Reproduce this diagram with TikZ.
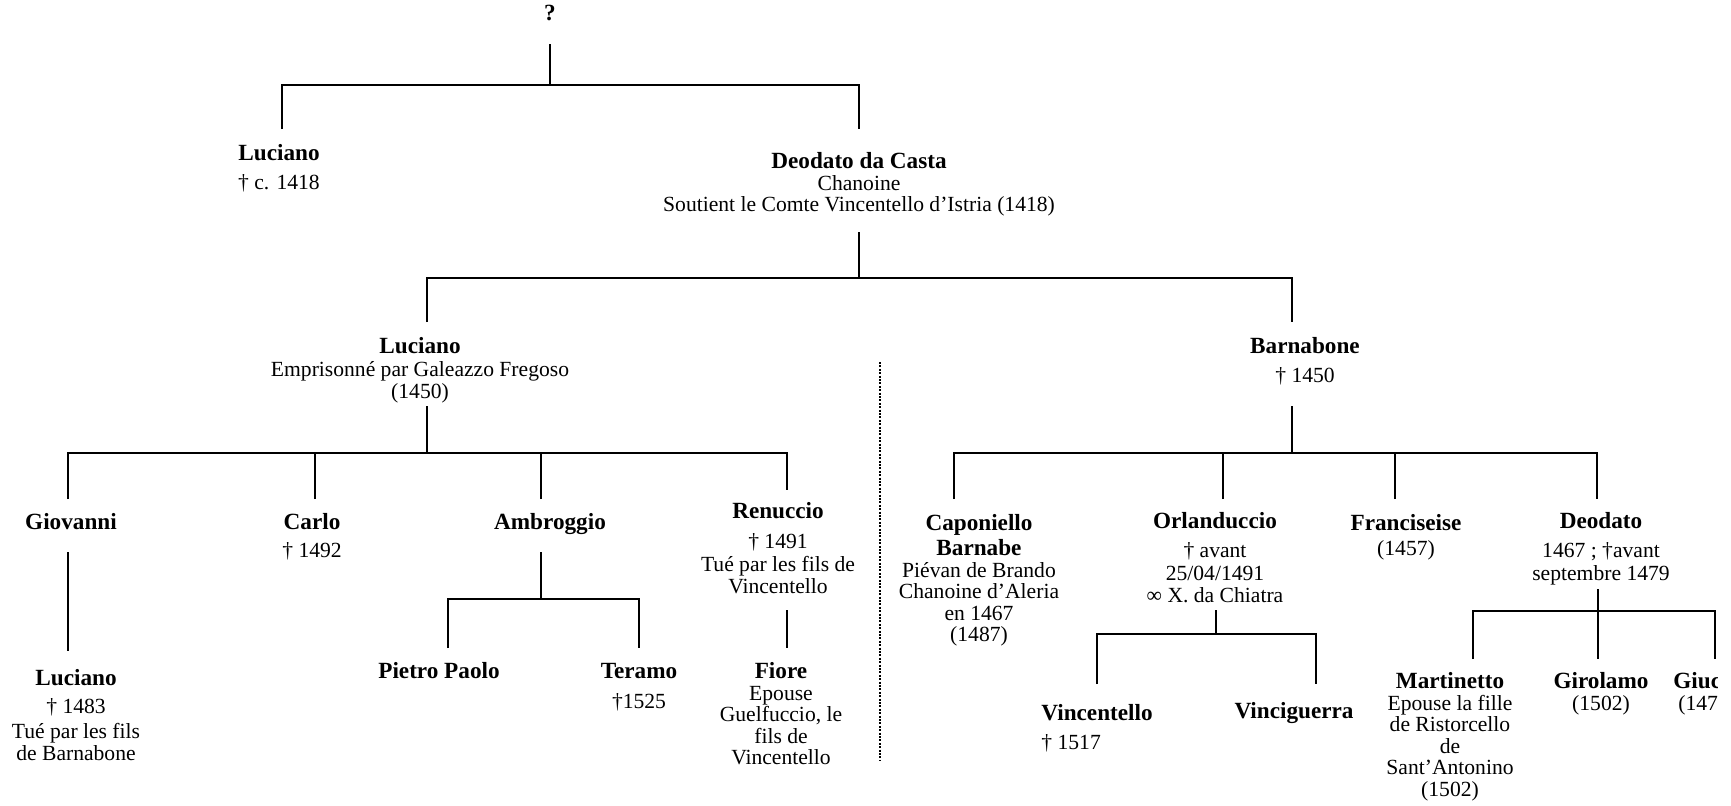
\documentclass[tikz,border=0pt]{standalone}
\usepackage{fontspec}
\setmainfont{Liberation Serif}
\newcommand{\nm}{\fontsize{11.6}{10.8}\selectfont\bfseries}
\newcommand{\pname}[1]{\rule{0pt}{9pt}{\nm #1}}
\tikzset{
  person/.style={align=center, anchor=north, yshift=9pt, inner sep=0pt, font=\fontsize{10.8}{10.8}\selectfont},
  link/.style={line width=0.9pt},
  sep/.style={line width=1.3pt, dash pattern=on 1pt off 0.7pt},
}
\begin{document}
\begin{tikzpicture}[x=0.5pt,y=-0.5pt]
\useasboundingbox (0,0) rectangle (1731,805);
\clip (0,0) rectangle (1717,805);
% people
\node[person] (q) at (550,20) {\pname{?}};
\node[person] (lucA) at (279,160) {\pname{Luciano}\\[3.7pt]† c. 1418};
\node[person] (deo) at (859,168) {\pname{Deodato da Casta}\\Chanoine\\Soutient le Comte Vincentello d’Istria (1418)};
\node[person] (lucB) at (420,353) {\pname{Luciano}\\[0.7pt]Emprisonné par Galeazzo Fregoso\\(1450)};
\node[person] (barn) at (1305,353) {\pname{Barnabone}\\[3.7pt]† 1450};
\node[person] (giov) at (71,529) {\pname{Giovanni}};
\node[person] (carlo) at (312,529) {\pname{Carlo}\\[3.2pt]† 1492};
\node[person] (ambr) at (550,529) {\pname{Ambroggio}};
\node[person] (renu) at (778,518) {\pname{Renuccio}\\[4.2pt]† 1491\\[0.7pt]Tué par les fils de\\Vincentello};
\node[person] (lucC) at (76,685) {\pname{Luciano}\\[3.2pt]† 1483\\[1.7pt]Tué par les fils\\de Barnabone};
\node[person] (pietro) at (439,678) {\pname{Pietro Paolo}};
\node[person] (teramo) at (639,678) {\pname{Teramo}\\[4.2pt]†1525};
\node[person] (fiore) at (781,678) {\pname{Fiore}\\Epouse\\Guelfuccio, le\\fils de\\Vincentello};
\node[person] (capo) at (979,530) {\pname{Caponiello}\\[1.7pt]{\nm Barnabe}\\Piévan de Brando\\Chanoine d’Aleria\\en 1467\\(1487)};
\node[person] (orl) at (1215,528) {\pname{Orlanduccio}\\[3.7pt]† avant\\[0.7pt]25/04/1491\\∞ X. da Chiatra};
\node[person] (fran) at (1406,530) {\pname{Franciseise}\\[1.7pt](1457)};
\node[person] (deoJ) at (1601,528) {\pname{Deodato}\\[3.7pt]1467 ; †avant\\[0.7pt]septembre 1479};
\node[person, anchor=north west, align=left] (vinc) at (1041,720) {\pname{Vincentello}\\[3.7pt]† 1517};
\node[person] (ving) at (1294,718) {\pname{Vinciguerra}};
\node[person] (mart) at (1450,688) {\pname{Martinetto}\\Epouse la fille\\de Ristorcello\\de\\Sant’Antonino\\(1502)};
\node[person] (giro) at (1601,688) {\pname{Girolamo}\\(1502)};
\node[person, anchor=north west, align=left] (giu) at (1673,688) {\pname{Giuc}\\\hspace*{2.5pt}(147};
% line ends
\coordinate (q-o) at (550,44);      \coordinate (b1) at (550,85);
\coordinate (lucA-i) at (282,129);  \coordinate (deo-i) at (859,129);
\coordinate (deo-o) at (859,232);   \coordinate (b2) at (859,278);
\coordinate (lucB-i) at (427,322);  \coordinate (barn-i) at (1292,322);
\coordinate (lucB-o) at (427,406);  \coordinate (b3) at (427,453);
\coordinate (giov-i) at (68,499);   \coordinate (carlo-i) at (315,499);
\coordinate (ambr-i) at (541,499);  \coordinate (renu-i) at (787,490);
\coordinate (barn-o) at (1292,406); \coordinate (b4) at (1292,453);
\coordinate (capo-i) at (954,499);  \coordinate (orl-i) at (1223,499);
\coordinate (fran-i) at (1395,499); \coordinate (deoJ-i) at (1597,499);
\coordinate (giov-o) at (68,552);   \coordinate (lucC-i) at (68,651);
\coordinate (ambr-o) at (541,552);  \coordinate (b5) at (541,599);
\coordinate (pietro-i) at (448,648); \coordinate (teramo-i) at (639,648);
\coordinate (renu-o) at (787,610);  \coordinate (fiore-i) at (787,648);
\coordinate (orl-o) at (1216,610);  \coordinate (b6) at (1216,634);
\coordinate (vinc-i) at (1097,684); \coordinate (ving-i) at (1316,684);
\coordinate (deoJ-o) at (1598,589); \coordinate (b7) at (1598,611);
\coordinate (mart-i) at (1473,659); \coordinate (giro-i) at (1598,659);
\coordinate (giu-i) at (1715,659);
\coordinate (sep-t) at (880,362);   \coordinate (sep-b) at (880,760);
% connectors
\draw[link] (q-o) -- (b1) (lucA-i) |- (b1) -| (deo-i);
\draw[link] (deo-o) -- (b2) (lucB-i) |- (b2) -| (barn-i);
\draw[link] (lucB-o) -- (b3) (giov-i) |- (b3) -| (renu-i)
  (carlo-i) -- (carlo-i |- b3) (ambr-i) -- (ambr-i |- b3);
\draw[link] (barn-o) -- (b4) (capo-i) |- (b4) -| (deoJ-i)
  (orl-i) -- (orl-i |- b4) (fran-i) -- (fran-i |- b4);
\draw[link] (giov-o) -- (lucC-i);
\draw[link] (ambr-o) -- (b5) (pietro-i) |- (b5) -| (teramo-i);
\draw[link] (renu-o) -- (fiore-i);
\draw[link] (orl-o) -- (b6) (vinc-i) |- (b6) -| (ving-i);
\draw[link] (deoJ-o) -- (giro-i) (mart-i) |- (b7) -| (giu-i);
\draw[sep] (sep-t) -- (sep-b);
\end{tikzpicture}
\end{document}
